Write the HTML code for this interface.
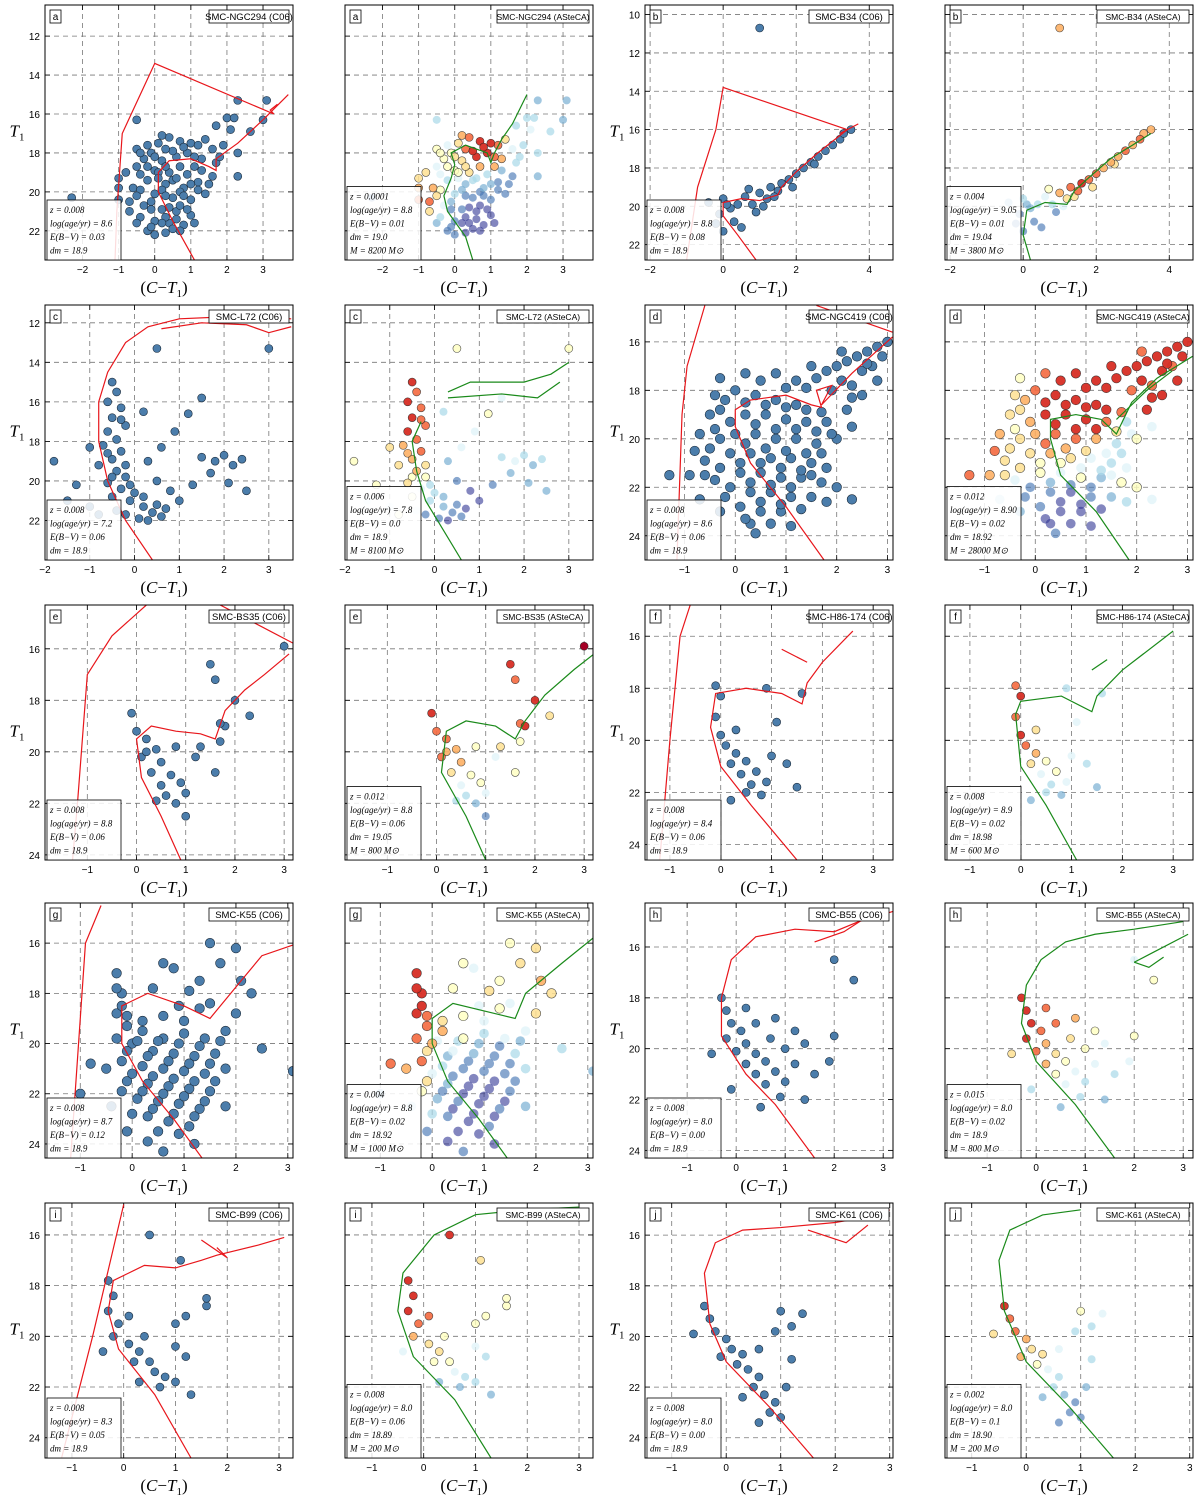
<!DOCTYPE html>
<html><head><meta charset="utf-8"><style>
body{margin:0;background:#fff;width:1200px;height:1496px;overflow:hidden}
svg{display:block}
</style></head><body>
<svg id="fig" width="1200" height="1496" xmlns="http://www.w3.org/2000/svg"></svg>
<script>
// ---------- data ----------
const clusterIds=['a','b','c','d','e','f','g','h','i','j'];
const clusterNames=['NGC294','B34','L72','NGC419','BS35','H86-174','K55','B55','B99','K61'];
const xRanges=[[-3.04,3.83],[-2.14,4.65],[-2.0,3.54],[-1.78,3.11],[-1.86,3.18],[-1.49,3.39],[-1.68,3.1],[-1.86,3.2],[-1.52,3.27],[-1.49,3.06]];
const yRanges=[[10.4,23.5],[9.5,22.8],[11.1,24.0],[14.48,25.0],[14.3,24.2],[14.8,24.6],[14.4,24.56],[14.27,24.3],[14.74,24.8],[14.73,24.8]];
const xTicks=[[-2,-1,0,1,2,3],[-2,0,2,4],[-2,-1,0,1,2,3],[-1,0,1,2,3],[-1,0,1,2,3],[-1,0,1,2,3],[-1,0,1,2,3],[-1,0,1,2,3],[-1,0,1,2,3],[-1,0,1,2,3]];
const yTicks=[[12,14,16,18,20,22],[10,12,14,16,18,20,22],[12,14,16,18,20,22],[16,18,20,22,24],[16,18,20,22,24],[16,18,20,22,24],[16,18,20,22,24],[16,18,20,22,24],[16,18,20,22,24],[16,18,20,22,24]];
const c06Params=[['0.008','8.6','0.03','18.9'],['0.008','8.8','0.08','18.9'],['0.008','7.2','0.06','18.9'],['0.008','8.6','0.06','18.9'],['0.008','8.8','0.06','18.9'],['0.008','8.4','0.06','18.9'],['0.008','8.7','0.12','18.9'],['0.008','8.0','0.00','18.9'],['0.008','8.3','0.05','18.9'],['0.008','8.0','0.00','18.9']];
const astecaParams=[['0.0001','8.8','0.01','19.0','8200'],['0.004','9.05','0.01','19.04','3800'],['0.006','7.8','0.0','18.9','8100'],['0.012','8.90','0.02','18.92','28000'],['0.012','8.8','0.06','19.05','800'],['0.008','8.9','0.02','18.98','600'],['0.004','8.8','0.02','18.92','1000'],['0.015','8.0','0.02','18.9','800'],['0.008','8.0','0.06','18.89','200'],['0.002','8.0','0.1','18.90','200']];

const aPts=[[-2.3,20.3],[-0.5,16.3],[2.3,15.3],[3.1,15.3],[2.0,16.2],[2.2,16.2],[3.0,16.3],[1.7,16.6],[2.1,16.8],[2.65,16.9],[2.3,18],[2.3,19.2],[-1.0,19.3],[-1.0,19.8],[-1.0,20.4],
[-0.5,17.8],[-0.2,17.6],[0.1,17.5],[0.4,17.2],[0.7,17.4],[1.0,17.5],[1.2,17.6],[1.6,17.8],[1.9,17.6],[0.9,18.0],
[-0.3,18.3],[0.2,18.4],[0.6,18.2],[1.3,18.3],[1.7,18.5],[-0.5,18.7],[0.0,18.9],[0.4,19.0],[0.9,19.1],[1.3,18.9],
[-0.2,19.4],[0.3,19.6],[0.8,19.8],[1.2,19.5],[1.6,19.2],[-0.6,19.8],[0.0,20.1],[0.5,20.3],[1.0,20.4],[1.4,20.1],
[-0.7,20.5],[-0.3,20.7],[0.2,20.9],[0.6,21.0],[1.0,21.2],[-0.4,21.3],[0.0,21.5],[0.4,21.6],[0.8,21.7],[-0.2,22.0],
[0.3,22.1],[-0.7,21.0],[0.1,19.0],[-0.1,20.5],[0.5,19.4],[0.7,20.7],[0.3,21.3],[1.1,18.7],[0.5,17.9],[-0.1,18.0],
[-0.4,18.0],[0.0,18.2],[0.3,17.8],[0.8,17.7],[1.1,18.2],[-0.2,18.7],[0.3,18.7],[0.7,18.7],[-0.4,19.1],[0.1,19.3],[0.6,19.3],[1.0,19.6],[-0.4,19.9],[0.2,19.9],[0.7,20.0],[1.2,19.9],[-0.5,20.2],[0.3,20.2],[0.8,20.2],[-0.1,20.9],[0.4,20.8],[0.9,20.9],[-0.5,21.6],[0.2,21.6],[0.6,21.4],[1.1,21.6],[-0.1,21.8],[0.5,21.9],[0.0,22.2],[0.7,22.0],[1.5,19.6],[1.8,18.2],[-0.8,19.0],[1.4,17.3],[0.2,17.1]];
const aProb=[1,3,2,2,3,3,2,3,4,3,3,2,6,7,8,5,4,6,8,9,9,8,4,3,9,5,6,9,7,3,4,5,6,3,2,3,2,2,1,1,7,3,1,1,1,8,4,1,0,0,3,1,0,0,1,0,6,5,2,3,0,0,7,9,5,
5,6,8,9,8,5,6,7,4,4,3,2,5,2,1,1,6,1,1,1,0,0,2,0,0,0,1,0,1,0,1,3,6,6,7];
const bPts=[[1.0,10.7],[-0.4,19.8],[0,19.6],[0.2,20.1],[0.4,19.9],[0.6,19.5],[0.8,19.9],[1.0,19.3],[1.2,19.6],[1.3,19.0],[1.5,19.2],[1.6,18.8],[1.8,18.6],[2.0,18.3],[2.2,18.0],[2.4,17.7],[2.6,17.4],[2.8,17.1],[3.0,16.8],[3.2,16.5],[3.3,16.2],[3.5,16.0],[1.4,19.5],[0.9,20.3],[0.3,20.8],[0.0,21.3],[-0.2,20.9],[0.5,21.1],[1.1,20.0],[0.7,19.1],[1.9,19.0],[0.1,19.9],[-0.1,20.4],[2.5,17.8]];
const bProb=[7,2,3,2,3,4,3,7,6,8,8,9,8,8,7,7,7,8,7,8,7,7,6,1,1,1,1,1,4,5,6,2,1,6];
const cPts=[[-0.5,15.0],[-0.4,15.5],[-0.6,16.0],[-0.3,16.3],[-0.5,16.8],[-0.2,17.2],[-0.6,17.5],[-0.4,17.9],[-0.7,18.2],[-0.3,18.5],[-0.5,18.9],[-0.8,19.2],[-0.4,19.5],[-0.2,19.8],[-0.6,20.1],[-0.3,20.4],[0.0,20.6],[-0.5,20.8],[-0.1,21.0],[0.2,21.3],[-0.4,21.5],[0.4,21.6],[0.1,21.9],[0.6,21.8],[-0.8,21.7],[-1.0,21.3],[-1.5,21.0],[-1.8,19.0],[-1.3,20.2],[-1.0,18.3],[0.3,19.0],[0.5,20.0],[0.8,20.5],[1.0,21.0],[1.5,18.8],[1.8,19.0],[2.0,18.7],[2.2,19.2],[2.4,18.9],[1.7,19.6],[2.1,20.1],[1.3,20.2],[0.9,17.5],[1.2,16.6],[0.6,18.3],[0.5,13.3],[3.0,13.3],[1.5,15.8],[0.2,16.5],[2.5,20.5],
[-0.6,18.6],[-0.2,19.2],[-0.5,19.8],[-0.1,20.2],[0.2,20.8],[0.5,21.2],[-0.2,21.7],[0.3,22.0],[0.7,21.4],[-0.3,16.9]];
const cProb=[9,8,9,8,9,8,9,8,7,8,7,6,7,5,6,4,3,5,3,2,4,1,1,1,5,4,4,5,5,6,2,1,0,0,3,4,3,2,3,2,2,1,4,5,4,5,5,4,3,2,
7,6,5,3,2,1,1,0,0,8];
const dPts=[[1.6,17.5],[1.8,17.2],[2.0,17.0],[2.2,16.8],[2.4,16.6],[2.6,16.4],[2.8,16.2],[3.0,16.0],[2.1,17.6],[2.5,17.2],[1.9,18.0],[2.3,18.3],[2.7,17.0],[1.4,17.9],[1.2,17.6],[1.0,17.9],
[0.0,18.0],[0.4,18.2],[0.8,18.4],[1.2,18.6],[-0.3,18.8],[0.2,19.0],[0.6,19.0],[1.0,19.2],[1.4,19.3],[1.8,19.3],[-0.4,19.6],[0.0,19.8],[0.4,19.8],[0.8,20.0],[1.2,20.0],[1.6,20.2],[-0.5,20.4],[-0.1,20.6],[0.3,20.6],[0.7,20.8],[1.1,20.8],[1.5,21.0],[-0.3,21.2],[0.1,21.4],[0.5,21.4],[0.9,21.6],[1.3,21.6],[1.7,21.8],[-0.1,22.0],[0.3,22.2],[0.7,22.2],[1.1,22.4],[1.5,22.4],[0.1,22.8],[0.5,23.0],[0.9,23.0],[0.3,23.5],[-0.6,21.5],[-0.8,20.5],[-0.9,21.5],[-1.3,21.5],[-0.3,17.5],[-0.4,18.2],[0.5,17.6],[2.0,22.0],[1.8,21.2],[0.4,23.9],[-0.7,22.5],[2.3,22.5],[2.0,20.0],
[-0.2,18.4],[0.2,18.5],[0.6,18.6],[1.0,18.7],[1.4,18.8],[-0.1,19.3],[0.4,19.4],[0.8,19.6],[1.2,19.6],[1.6,19.7],[-0.3,20.0],[0.2,20.2],[0.6,20.4],[1.0,20.5],[1.4,20.6],[-0.6,20.9],[0.1,21.0],[0.5,21.0],[0.9,21.2],[1.3,21.3],[-0.4,21.7],[0.3,21.8],[0.7,21.9],[1.1,22.0],[1.5,21.5],[-0.2,22.4],[0.5,22.6],[0.9,22.7],[1.3,22.9],[0.2,23.3],[0.7,23.5],[1.1,23.6],[-0.3,23.0],[1.7,20.6],[1.9,19.8],[1.7,18.9],[2.2,18.8],[2.5,18.2],[2.8,17.6],[2.9,16.6],[2.6,16.9],[2.3,17.8],[2.1,16.4],[1.5,17.0],[0.8,17.3],[0.2,17.3],[-0.5,19.0],[-0.7,19.8],[2.3,19.5],[1.8,22.6]];
const dProb=[9,9,9,9,9,9,9,9,9,9,8,9,8,9,9,9,8,9,9,9,6,9,9,9,8,3,5,7,8,8,7,3,6,6,7,6,4,3,6,5,4,5,2,5,1,1,0,1,2,1,0,0,0,6,8,7,8,5,6,9,5,4,1,3,4,5,
7,9,9,9,9,7,9,9,9,6,6,8,7,6,4,6,5,5,4,3,4,2,1,1,4,1,0,0,0,0,0,0,2,3,4,8,9,9,9,9,9,8,8,9,9,8,6,7,4,3];
const ePts=[[-0.1,18.5],[0.0,19.2],[0.2,19.5],[0.4,19.9],[0.1,20.2],[0.5,20.4],[0.3,20.8],[0.7,20.9],[0.5,21.3],[0.9,21.2],[0.6,21.7],[1.0,21.6],[0.8,22.0],[1.0,22.5],[0.4,21.9],[1.3,19.8],[1.8,19.0],[1.7,18.9],[2.0,18.0],[1.6,17.2],[1.5,16.6],[3.0,15.9],[2.3,18.6],[1.7,19.6],[1.6,20.8],[1.2,20.2],[0.8,19.8],[0.2,20.0]];
const eProb=[9,8,8,7,8,7,6,5,4,5,3,4,2,1,3,6,9,8,9,8,9,10,6,5,5,4,5,7];
const fPts=[[-0.1,17.9],[0.0,18.3],[-0.1,19.1],[0.0,19.8],[0.1,20.2],[0.3,20.5],[0.2,20.9],[0.5,20.8],[0.4,21.3],[0.7,21.2],[0.6,21.7],[0.9,21.6],[0.8,22.1],[1.0,20.6],[0.3,19.6],[1.6,18.2],[0.9,18.0],[1.1,19.3],[1.5,21.8],[0.2,22.3],[0.5,22.0],[1.3,20.9]];
const fProb=[8,9,8,9,8,7,6,5,4,5,3,4,2,4,6,3,3,4,2,2,3,3];
const gPts=[[-0.3,17.2],[-0.2,18.0],[-0.3,18.8],[-0.1,19.3],[0.2,19.5],[0.6,19.8],[1.0,19.6],[1.4,19.8],[1.8,19.5],[2.0,18.8],[0.0,20.0],[0.4,20.3],[0.8,20.4],[1.2,20.5],[1.6,20.4],[-0.2,20.7],[0.2,20.9],[0.6,21.0],[1.0,21.1],[1.4,21.2],[1.8,21.0],[-0.1,21.5],[0.3,21.6],[0.7,21.7],[1.1,21.8],[1.5,21.9],[0.1,22.2],[0.5,22.3],[0.9,22.4],[1.3,22.6],[0.3,22.9],[0.7,23.1],[1.1,23.3],[-0.5,21.0],[-0.8,20.8],[-0.4,22.5],[-0.1,23.5],[0.4,17.8],[0.8,17.0],[1.3,17.5],[1.7,16.8],[2.1,17.5],[2.3,18.0],[0.9,18.5],[1.3,18.6],[2.5,20.2],[3.1,21.1],[-1.0,22.0],[0.6,24.3],[1.8,22.5],
[0.1,19.9],[0.5,19.9],[0.9,20.0],[1.3,20.1],[1.7,19.9],[-0.1,20.3],[0.3,20.5],[0.7,20.7],[1.1,20.8],[1.5,20.8],[0.0,21.2],[0.4,21.3],[0.8,21.4],[1.2,21.5],[1.6,21.5],[0.2,21.9],[0.6,22.0],[1.0,22.1],[1.4,22.3],[0.4,22.6],[0.8,22.8],[1.2,22.9],[0.5,23.5],[0.9,23.6],[-0.3,19.8],[-0.2,21.9],[0.0,22.8],[-0.3,17.8],[-0.2,18.5],[-0.1,18.9],[0.2,19.1],[0.6,18.9],[1.0,19.1],[1.5,18.4],[1.1,17.9],[0.6,16.8],[1.5,16.0],[2.0,16.2],[1.2,24.0],[0.3,23.9]];
const gProb=[9,9,9,8,7,5,3,4,4,6,7,4,2,1,3,8,3,1,1,1,3,6,2,0,0,1,2,1,0,1,1,0,1,7,8,3,1,5,4,5,6,7,6,4,5,3,2,2,1,2,
4,3,2,1,2,6,2,1,1,1,4,1,0,0,1,1,0,0,0,0,0,0,0,0,8,5,3,9,9,8,6,5,4,4,6,5,5,6,0,0];
const hPts=[[-0.3,18.0],[-0.2,18.5],[-0.1,19.0],[0.1,19.3],[-0.2,19.6],[0.2,19.8],[0.0,20.1],[0.4,20.2],[0.2,20.6],[0.6,20.5],[0.4,21.0],[0.8,20.9],[0.6,21.4],[1.0,21.3],[0.9,21.9],[1.2,20.6],[1.0,20.0],[0.7,19.6],[0.4,19.0],[0.2,18.4],[1.4,19.8],[1.6,21.0],[1.9,20.5],[2.0,19.5],[0.8,18.8],[-0.5,20.2],[-0.1,21.6],[1.4,22.0],[2.4,17.3],[2.0,16.5],[1.2,19.3],[0.5,22.3]];
const hProb=[9,9,9,8,9,7,8,6,7,5,5,4,4,3,3,4,5,6,8,8,4,3,4,5,7,6,3,2,5,4,5,2];
const iPts=[[-0.3,17.8],[-0.2,18.4],[-0.3,19.0],[-0.1,19.5],[-0.2,20.0],[0.1,20.3],[0.3,20.6],[0.2,21.0],[0.5,21.0],[0.6,21.4],[0.8,21.6],[0.7,22.0],[1.0,21.8],[0.4,20.0],[0.1,19.2],[0.3,21.8],[1.0,19.5],[1.2,19.2],[1.0,20.4],[1.6,18.8],[1.6,18.5],[0.5,16.0],[1.1,17.0],[1.2,20.8],[1.3,22.3],[-0.4,20.6]];
const iProb=[9,9,9,8,7,6,6,5,5,4,3,2,3,5,8,2,5,5,4,5,5,9,6,3,2,4];
const jPts=[[-0.4,18.8],[-0.3,19.3],[-0.2,19.8],[0.0,20.1],[0.1,20.5],[0.3,20.7],[0.2,21.1],[0.4,21.3],[0.6,21.6],[0.5,22.0],[0.7,22.3],[0.9,22.6],[0.8,23.0],[1.0,23.2],[0.3,22.4],[-0.1,20.8],[0.6,20.5],[0.9,19.8],[1.2,19.6],[1.0,19.0],[1.4,19.1],[-0.6,19.9],[1.1,22.0],[0.6,23.4],[1.2,20.9]];
const jProb=[9,8,8,7,6,6,5,4,3,3,2,1,1,1,2,7,4,3,3,5,4,6,2,1,3];

const allPts=[aPts,bPts,cPts,dPts,ePts,fPts,gPts,hPts,iPts,jPts];
const allProb=[aProb,bProb,cProb,dProb,eProb,fProb,gProb,hProb,iProb,jProb];

const redIso=[
[[[-1.1,23.5],[-1.05,21],[-0.9,17],[0,13.4],[3.3,16],[3.2,15.8],[3.4,15.5]],[[1.1,23.5],[0.5,21.5],[0.1,20],[0.1,19],[0.4,18.4],[1.0,18.3],[1.5,18.7],[1.7,18.9],[1.7,18.3],[2.3,17.5],[3.0,16.3],[3.7,15.0]]],
[[[-1.0,22.8],[-0.7,19],[-0.2,16],[0,13.8],[3.4,16.0],[3.2,16.2]],[[0.9,22.8],[0.4,21.5],[0,20.5],[0,19.8],[0.5,19.6],[1.0,19.7],[1.5,19.4],[1.6,19.0],[2.0,18.2],[2.6,17.2],[3.4,16.0],[3.7,15.7]]],
[[[0.4,24],[-0.2,22],[-0.6,20],[-0.8,18],[-0.8,16],[-0.6,14.5],[-0.2,13],[0.3,12.2],[1,11.8],[2,11.7],[3.5,11.8]],[[0.6,12.3],[1.5,12.0],[2.5,12.1],[3.0,12.5],[3.5,12.2]]],
[[[-1.15,25],[-1.05,19],[-0.95,17],[-0.6,14.5]],[[1.75,25],[1.0,22.8],[0.3,21],[0.0,19.5],[0.0,18.8],[0.3,18.4],[1.0,18.2],[1.5,18.6],[1.7,18.7],[1.6,18.0],[1.9,17.8],[1.7,18.6],[2.3,17.3],[3.1,15.8]],[[1.6,14.5],[3.1,15.6]]],
[[[-1.3,24.2],[-1.2,22],[-1.0,17],[-0.5,15.5],[0.2,14.3]],[[0.9,24.2],[0.5,22.5],[0.1,21],[0,19.5],[0.3,19.0],[0.8,19.2],[1.3,19.3],[1.6,19.5],[1.8,18.4],[2.2,17.6],[2.6,17.0],[3.1,16.2]],[[1.7,14.3],[3.2,15.8]]],
[[[-1.2,24.6],[-1.0,20],[-0.8,16],[-0.6,14.8]],[[1.5,24.6],[0.6,22.5],[0,21],[-0.2,19.5],[-0.1,18.2],[0.5,18.0],[1.2,18.2],[1.6,18.6],[1.7,17.8],[2.0,17.0],[2.6,15.8]],[[1.2,16.5],[1.7,17.0],[1.5,16.8]]],
[[[-1.2,25],[-1.0,19],[-0.9,16],[-0.6,14.5]],[[1.5,25],[0.8,23],[0.2,21.5],[-0.2,20],[-0.2,18.5],[0.3,18],[1.0,18.5],[1.5,19.0],[1.7,18.5],[2.1,17.5],[2.5,16.5],[3.2,16.0]]],
[[[1.6,24.3],[0.8,22.2],[0.2,21],[-0.3,19.5],[-0.3,18],[-0.1,16.5],[0.4,15.6],[1.2,15.3],[2.0,15.4],[2.5,15.0],[3.2,14.6]],[[1.6,15.8],[2.2,15.4],[2.6,14.9]]],
[[[-1.2,24.8],[-0.6,20],[0.0,14.8]],[[1.3,24.8],[0.6,22.3],[-0.1,20.5],[-0.3,19],[-0.2,17.8],[0.4,17.2],[1.0,17.3],[1.5,17.0],[1.8,16.8],[2.6,16.4],[3.1,16.1]],[[1.5,16.2],[2.0,16.9],[1.8,16.5]]],
[[[1.6,24.8],[0.8,22.8],[0.0,21],[-0.3,19.5],[-0.4,17.5],[-0.2,16.3],[0.3,15.8],[1.0,15.7],[2.0,15.5],[2.8,15.2],[3.0,15.0]],[[1.5,15.8],[2.2,16.3],[2.6,15.6]]]
];
const greenIso=[
[[[0.5,23.5],[0.3,22.3],[-0.2,21],[-0.3,20.2],[-0.1,19.3],[0,18.6],[-0.1,18.0],[0.3,17.6],[0.9,18.0],[1.0,18.5],[1.1,18.0],[1.3,17.3],[1.6,16.5],[2.0,15.0]]],
[[[0.2,22.8],[0.0,21.5],[0.1,20.2],[0.6,19.8],[1.2,19.9],[1.4,19.2],[1.8,18.5],[2.4,17.5],[3.0,16.8],[3.5,16.2]]],
[[[0.6,24],[0.2,22.5],[-0.2,21],[-0.4,19.5],[-0.5,18.0],[-0.3,17.0]],[[0.3,15.5],[0.8,15.0],[2.0,15.0],[2.6,14.6],[3.0,14.0]],[[0.3,15.8],[1.5,15.6],[2.3,15.8],[2.8,15.0]]],
[[[1.85,25],[1.2,23.0],[0.5,21.5],[0.3,20],[0.3,19.2],[0.8,19.0],[1.3,19.2],[1.6,19.8],[1.9,18.5],[2.4,17.5],[3.1,16.6]],[[1.6,19.2],[2.2,18.0],[2.7,17.2]]],
[[[1.0,24.2],[0.6,22.5],[0.1,20.8],[0.2,19.2],[0.6,18.8],[1.2,19.0],[1.6,19.5],[1.8,18.8],[2.2,17.8],[2.8,16.8],[3.2,16.2]]],
[[[1.1,24.6],[0.5,22.5],[0,21],[-0.1,19],[0,18.5],[0.8,18.3],[1.4,18.9],[1.5,18.3],[2.0,17.3],[3.0,15.8]],[[1.4,17.3],[1.7,16.9]]],
[[[1.6,25],[0.9,23],[0.3,21.5],[0,20],[0,19],[0.4,18.4],[1.2,18.8],[1.6,19.0],[1.8,18.0],[2.5,16.8],[3.1,15.8]]],
[[[1.6,24.3],[0.8,22.2],[0,20.5],[-0.3,19],[-0.2,17.5],[0.1,16.5],[0.6,15.8],[1.2,15.5],[2.0,15.3],[3.0,15.0]],[[2.0,16.6],[2.4,16.2],[3.1,15.5]],[[2.0,16.6],[2.3,16.8],[2.6,16.4]]],
[[[1.3,24.8],[0.6,22.5],[-0.2,20.8],[-0.5,19],[-0.4,17.5],[0.2,16],[1.0,15.2],[2.0,15.0],[3.0,14.9]]],
[[[1.6,24.8],[0.8,22.8],[0,21],[-0.4,19],[-0.5,17],[-0.3,15.8],[0.3,15.2],[1.0,15.0]]]
];

// ---------- rendering ----------
const NS='http://www.w3.org/2000/svg';
const svg=document.getElementById('fig');
function mk(tag,attrs,parent){const e=document.createElementNS(NS,tag);for(const k in attrs)e.setAttribute(k,attrs[k]);(parent||svg).appendChild(e);return e;}
const colLeft=[45,345,645,945], rowTop=[5,305,605,903,1203], PW=248, PH=255;
const cmap=['#313695','#4575b4','#74add1','#abd9e9','#e0f3f8','#ffffbf','#fee090','#fdae61','#f46d43','#d73027','#a50026'];

for(let k=0;k<10;k++){
  const row=Math.floor(k/2), pair=k%2;
  for(let v=0;v<2;v++){
    const col=pair*2+v;
    const L=colLeft[col], T=rowTop[row];
    const xr=xRanges[k], yr=yRanges[k];
    const sx=x=>L+(x-xr[0])/(xr[1]-xr[0])*PW;
    const sy=y=>T+(y-yr[0])/(yr[1]-yr[0])*PH;
    const g=mk('g',{});
    
    
    const cid='clip'+k+'_'+v;
    const cp=mk('clipPath',{id:cid},g);mk('rect',{x:L,y:T,width:PW,height:PH},cp);
    xTicks[k].forEach(t=>{const X=sx(t);
      const gl=mk('line',{x1:X,x2:X,y1:T,y2:T+PH,stroke:'#777','stroke-width':0.8,'stroke-dasharray':'5,4'},g);
      
      mk('line',{x1:X,x2:X,y1:T+PH,y2:T+PH-5,stroke:'#000','stroke-width':0.8},g);
      mk('line',{x1:X,x2:X,y1:T,y2:T+5,stroke:'#000','stroke-width':0.8},g);
      const tl=mk('text',{x:X,y:T+PH+13,'text-anchor':'middle','font-size':10,'font-family':'Liberation Sans, sans-serif'},g);
      tl.textContent=(t<0?'\u2212'+(-t):t);
      
    });
    yTicks[k].forEach(t=>{const Y=sy(t);
      const gl=mk('line',{x1:L,x2:L+PW,y1:Y,y2:Y,stroke:'#777','stroke-width':0.8,'stroke-dasharray':'5,4'},g);
      
      mk('line',{x1:L,x2:L+5,y1:Y,y2:Y,stroke:'#000','stroke-width':0.8},g);
      mk('line',{x1:L+PW,x2:L+PW-5,y1:Y,y2:Y,stroke:'#000','stroke-width':0.8},g);
      if(v===0){const tl=mk('text',{x:L-5,y:Y+4,'text-anchor':'end','font-size':10,'font-family':'Liberation Sans, sans-serif'},g);
        tl.textContent=t;
        }
    });
    const cg=mk('g',{'clip-path':'url(#'+cid+')'},g);
    const pts=allPts[k], pr=allProb[k];
    const rad=(k===3||k===6)?4.8:4;
    if(v===0){
      pts.forEach(p=>{const c=mk('circle',{cx:sx(p[0]),cy:sy(p[1]),r:rad,fill:'#4b7dab',stroke:'#1b2b3b','stroke-width':0.6},cg);
        });
      redIso[k].forEach(seg=>{const pl=mk('polyline',{points:seg.map(p=>sx(p[0])+','+sy(p[1])).join(' '),fill:'none',stroke:'#e8161b','stroke-width':1.2},cg);
        });
    } else {
      const idx=pts.map((p,i)=>i).sort((a,b)=>(pr[a]??2)-(pr[b]??2));
      idx.forEach(i=>{const p=pts[i];const q=(pr[i]??2);
        const c=mk('circle',{cx:sx(p[0]),cy:sy(p[1]),r:rad,fill:cmap[Math.min(10,q)],'fill-opacity':0.6+0.04*q,stroke:'#222','stroke-width':q>=5?0.6:0,'stroke-opacity':0.8},cg);
        });
      greenIso[k].forEach(seg=>{const pl=mk('polyline',{points:seg.map(p=>sx(p[0])+','+sy(p[1])).join(' '),fill:'none',stroke:'#1a8a1a','stroke-width':1.2},cg);
        });
    }
    const fr=mk('rect',{x:L,y:T,width:PW,height:PH,fill:'none',stroke:'#000','stroke-width':1},g);
    
    const lb=mk('rect',{x:L+5,y:T+5,width:11,height:13,fill:'#fff',stroke:'#000','stroke-width':0.8},g);
    
    const lt=mk('text',{x:L+10.5,y:T+15,'text-anchor':'middle','font-size':10,'font-family':'Liberation Sans, sans-serif'},g);
    lt.textContent=clusterIds[k];
    
    const title=v?'SMC-'+clusterNames[k]+' (ASteCA)':'SMC-'+clusterNames[k]+' (C06)';
    const tw=v?92:80;
    const tb=mk('rect',{x:L+PW-tw-4,y:T+5,width:tw,height:13,fill:'#fff',stroke:'#000','stroke-width':0.8},g);
    
    const tt=mk('text',{x:L+PW-tw/2-4,y:T+15,'text-anchor':'middle','font-size':v?8.5:9.5,'font-family':'Liberation Sans, sans-serif'},g);
    tt.textContent=title;
    
    const par=v?astecaParams[k]:c06Params[k];
    const lines=['z = '+par[0],'log(age/yr) = '+par[1],'E(B\u2212V) = '+par[2],'dm = '+par[3]];
    if(v)lines.push('M = '+par[4]+' M\u2299');
    const ih=lines.length*13.5+6, iw=74;
    const ib=mk('rect',{x:L+2,y:T+PH-ih,width:iw,height:ih,fill:'#fff','fill-opacity':0.85,stroke:'#000','stroke-width':0.8},g);
    
    lines.forEach((s,i)=>{const t=mk('text',{x:L+5,y:T+PH-ih+13+i*13.5,'font-size':9,'font-style':'italic','font-family':'Liberation Serif, serif'},g);
      t.textContent=s;});
    const xl=mk('text',{x:L+PW/2-5,y:T+PH+33,'text-anchor':'middle','font-size':17,'font-family':'Liberation Serif, serif'},g);
    xl.innerHTML='(<tspan font-style="italic">C</tspan>\u2212<tspan font-style="italic">T</tspan><tspan font-size="11" dy="4">1</tspan><tspan dy="-4">)</tspan>';
    
    if(v===0){
      const yl=mk('text',{x:L-28,y:T+PH/2+4,'text-anchor':'middle','font-size':17,'font-style':'italic','font-family':'Liberation Serif, serif'},g);
      yl.innerHTML='T<tspan font-size="11" dy="4" font-style="normal">1</tspan>';
      
    }
  }
}
</script>
</body></html>
